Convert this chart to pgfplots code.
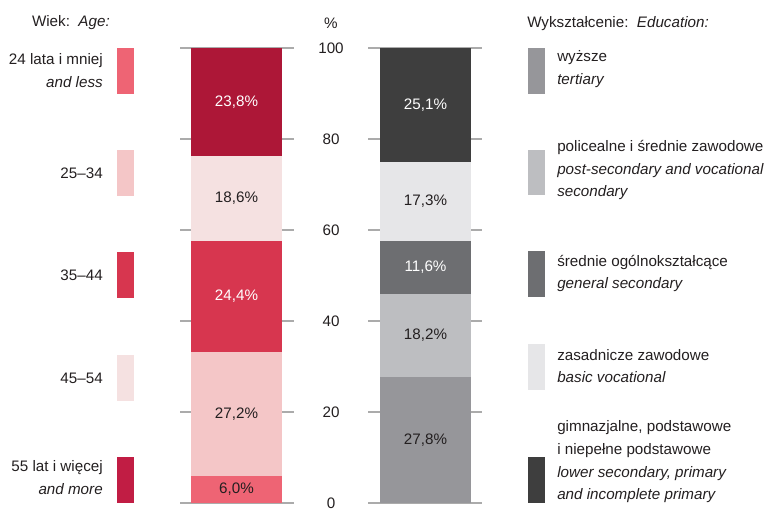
\documentclass[border=0pt]{standalone}
\usepackage{pgfplots}
\pgfplotsset{compat=1.18}
\usepackage{fontspec}
\setmainfont{Liberation Sans}

% age groups (bottom to top of the bar)
\definecolor{agea}{HTML}{EE6474}
\definecolor{ageb}{HTML}{F4C6C7}
\definecolor{agec}{HTML}{D7364F}
\definecolor{aged}{HTML}{F5E1E1}
\definecolor{agee}{HTML}{AD1737}
\definecolor{ageeleg}{HTML}{C11D44}
% education (bottom to top)
\definecolor{edua}{HTML}{96969A}
\definecolor{edub}{HTML}{BDBEC1}
\definecolor{educ}{HTML}{6D6E71}
\definecolor{edud}{HTML}{E6E6E8}
\definecolor{edue}{HTML}{3E3E3E}
\definecolor{txt}{HTML}{231F20}

\begin{document}
\begin{tikzpicture}[font=\fontsize{11.4}{17}\selectfont,text=txt]
\path[use as bounding box] (0pt,0pt) rectangle (576pt,387.75pt);

\begin{axis}[
  at={(135pt,10.5pt)}, anchor=south west,
  scale only axis, width=226.5pt, height=341.25pt,
  xmin=180, xmax=482, ymin=0, ymax=100,
  ybar stacked, bar width=91,
  axis line style={draw=none},
  xtick=\empty, ytick={0,20,40,60,80,100}, yticklabels={},
  major tick length=0pt,
  ymajorgrids, grid style={color=black!33, line width=0.8pt},
  clip=false,
]
% left bar: age, right bar: education
\addplot[fill=agea, draw=none] coordinates {(236.5,6.0) (425.5,0)};
\addplot[fill=ageb, draw=none] coordinates {(236.5,27.2) (425.5,0)};
\addplot[fill=agec, draw=none] coordinates {(236.5,24.4) (425.5,0)};
\addplot[fill=aged, draw=none] coordinates {(236.5,18.6) (425.5,0)};
\addplot[fill=agee, draw=none] coordinates {(236.5,23.8) (425.5,0)};
\addplot[fill=edua, draw=none] coordinates {(236.5,0) (425.5,27.8)};
\addplot[fill=edub, draw=none] coordinates {(236.5,0) (425.5,18.2)};
\addplot[fill=educ, draw=none] coordinates {(236.5,0) (425.5,11.6)};
\addplot[fill=edud, draw=none] coordinates {(236.5,0) (425.5,17.3)};
\addplot[fill=edue, draw=none] coordinates {(236.5,0) (425.5,25.1)};

\pgfplotsinvokeforeach{0,20,40,60,80,100}{
  \node[fill=white, minimum width=56pt, inner ysep=1pt] at (axis cs:331,#1) {#1};
}
\coordinate (pct) at (axis cs:331,105.5);
\coordinate (a1) at (axis cs:236.5,3.0);
\coordinate (a2) at (axis cs:236.5,19.6);
\coordinate (a3) at (axis cs:236.5,45.4);
\coordinate (a4) at (axis cs:236.5,66.9);
\coordinate (a5) at (axis cs:236.5,88.1);
\coordinate (e1) at (axis cs:425.5,13.9);
\coordinate (e2) at (axis cs:425.5,36.9);
\coordinate (e3) at (axis cs:425.5,51.8);
\coordinate (e4) at (axis cs:425.5,66.25);
\coordinate (e5) at (axis cs:425.5,87.45);
\end{axis}

\node at (pct) {\%};
\node at (a1) {6,0\%};
\node at (a2) {27,2\%};
\node[text=white] at (a3) {24,4\%};
\node at (a4) {18,6\%};
\node[text=white] at (a5) {23,8\%};
\node at (e1) {27,8\%};
\node at (e2) {18,2\%};
\node[text=white] at (e3) {11,6\%};
\node at (e4) {17,3\%};
\node[text=white] at (e5) {25,1\%};

\begin{scope}[x=0.75pt,y=0.75pt]
% age legend
\node[anchor=east, inner sep=0pt] at (110,494) {Wiek:\ \ \textit{Age:}};
\fill[agea] (117,423) rectangle (134,469);
\fill[ageb] (117,321) rectangle (134,367);
\fill[agec] (117,219) rectangle (134,265);
\fill[aged] (117,116) rectangle (134,162);
\fill[ageeleg] (117,14) rectangle (134,60);
\node[anchor=east, inner sep=0pt, align=right] at (103,446.5) {24 lata i mniej\\\textit{and less}};
\node[anchor=east, inner sep=0pt] at (103,344) {25–34};
\node[anchor=east, inner sep=0pt] at (103,242) {35–44};
\node[anchor=east, inner sep=0pt] at (103,139) {45–54};
\node[anchor=east, inner sep=0pt, align=right] at (103,39.5) {55 lat i więcej\\\textit{and more}};

% education legend
\node[anchor=west, inner sep=0pt] at (527,493) {Wykształcenie:\ \ \textit{Education:}};
\fill[edua] (528,423) rectangle (545,469);
\fill[edub] (528,322) rectangle (545,367);
\fill[educ] (528,220) rectangle (545,266);
\fill[edud] (528,127) rectangle (545,173);
\fill[edue] (528,14) rectangle (545,60);
\node[anchor=west, inner sep=0pt, align=left] at (557,448) {wyższe\\\textit{tertiary}};
\node[anchor=west, inner sep=0pt, align=left] at (557,347) {policealne i średnie zawodowe\\\textit{post-secondary and vocational}\\\textit{secondary}};
\node[anchor=west, inner sep=0pt, align=left] at (557,243.5) {średnie ogólnokształcące\\\textit{general secondary}};
\node[anchor=west, inner sep=0pt, align=left] at (557,151) {zasadnicze zawodowe\\\textit{basic vocational}};
\node[anchor=west, inner sep=0pt, align=left] at (557,55) {gimnazjalne, podstawowe\\i niepełne podstawowe\\\textit{lower secondary, primary}\\\textit{and incomplete primary}};
\end{scope}
\end{tikzpicture}
\end{document}
